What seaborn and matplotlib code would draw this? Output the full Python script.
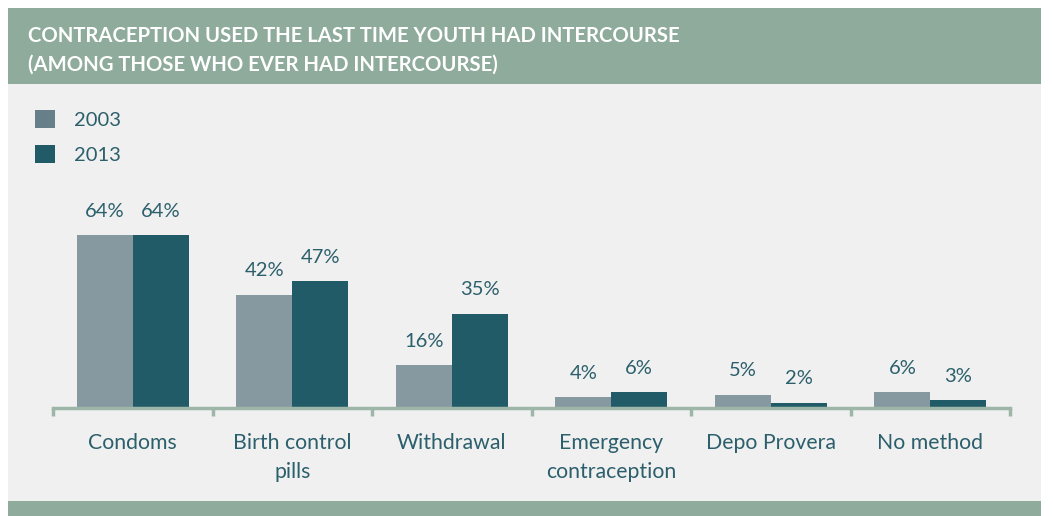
import pandas as pd
import seaborn as sns
import matplotlib.pyplot as plt
from matplotlib.patches import Rectangle

# data
categories = ["Condoms", "Birth control\npills", "Withdrawal",
              "Emergency\ncontraception", "Depo Provera", "No method"]
years = ["2003", "2013"]
pct_2003 = [64, 42, 16, 4, 5, 6]
pct_2013 = [64, 47, 35, 6, 2, 3]

df = pd.DataFrame({
    "method": categories * 2,
    "year": [years[0]] * len(categories) + [years[1]] * len(categories),
    "pct": pct_2003 + pct_2013,
})

gray = "#8799a0"
teal = "#215b68"
text_col = "#2b5f6b"
sage = "#8eab9c"
panel = "#f0f0f0"
axis_col = "#9db6a8"

sns.set_style("white")
plt.rcParams["font.family"] = ["Lato", "DejaVu Sans"]

W, H = 1053, 516
fig = plt.figure(figsize=(W / 100, H / 100), dpi=100)
fig.patch.set_facecolor("white")

# background blocks (figure coords from pixels), behind the axes
def px_rect(x0, y0, x1, y1, color):
    fig.patches.append(Rectangle((x0 / W, 1 - y1 / H), (x1 - x0) / W, (y1 - y0) / H,
                                 transform=fig.transFigure, facecolor=color,
                                 edgecolor="none", zorder=-5))

px_rect(8, 8, 1041, 84, sage)
px_rect(8, 84, 1041, 501, panel)
px_rect(8, 501, 1041, 516, sage)

fig.text(28 / W, 1 - 26 / H,
         "CONTRACEPTION USED THE LAST TIME YOUTH HAD INTERCOURSE\n(AMONG THOSE WHO EVER HAD INTERCOURSE)",
         color="white", fontsize=14.6, fontweight="bold", va="top", ha="left",
         linespacing=1.55)

ymax = 70
base_px, px_per = 408, 2.70
ax = fig.add_axes([53 / W, 1 - base_px / H, 957 / W, ymax * px_per / H])
ax.patch.set_visible(False)

sns.barplot(data=df, x="method", y="pct", hue="year", palette=[gray, teal],
            width=0.7, gap=0, saturation=1, linewidth=0, ax=ax, zorder=2)

for cont in ax.containers:
    ax.bar_label(cont, fmt="%d%%", padding=11, color=text_col, fontsize=14.5)

ax.set_ylim(0, ymax)
ax.set_xlim(-0.5, len(categories) - 0.5)
ax.set_xlabel("")
ax.set_ylabel("")
ax.set_yticks([])
for s in ["top", "right", "left"]:
    ax.spines[s].set_visible(False)
ax.spines["bottom"].set_color(axis_col)
ax.spines["bottom"].set_linewidth(2.5)
ax.spines["bottom"].set_zorder(3)

ax.set_xticks(range(len(categories)))
ax.set_xticklabels(categories, color=text_col, fontsize=15.3, linespacing=1.55)
ax.tick_params(axis="x", which="major", bottom=True, length=0, pad=18)
ax.set_xticks([i - 0.5 for i in range(len(categories) + 1)], minor=True)
ax.tick_params(axis="x", which="minor", bottom=True, length=6, width=2.5,
               color=axis_col, direction="out")
for lbl in ax.get_xticklabels():
    lbl.set_verticalalignment("top")

sns.move_legend(ax, "upper left", bbox_to_anchor=(35 / W, 1 - 110 / H),
                bbox_transform=fig.transFigure, frameon=False, title=None,
                fontsize=14.5, handlelength=1.0, handleheight=1.0,
                labelspacing=0.8, handletextpad=0.95, borderpad=0,
                borderaxespad=0)
leg = ax.get_legend()
for h, c in zip(leg.legend_handles, ["#667f89", teal]):
    h.set_facecolor(c)
    h.set_edgecolor("none")
for t in leg.get_texts():
    t.set_color(text_col)

fig.savefig("out.png", dpi=100, facecolor=fig.get_facecolor())
